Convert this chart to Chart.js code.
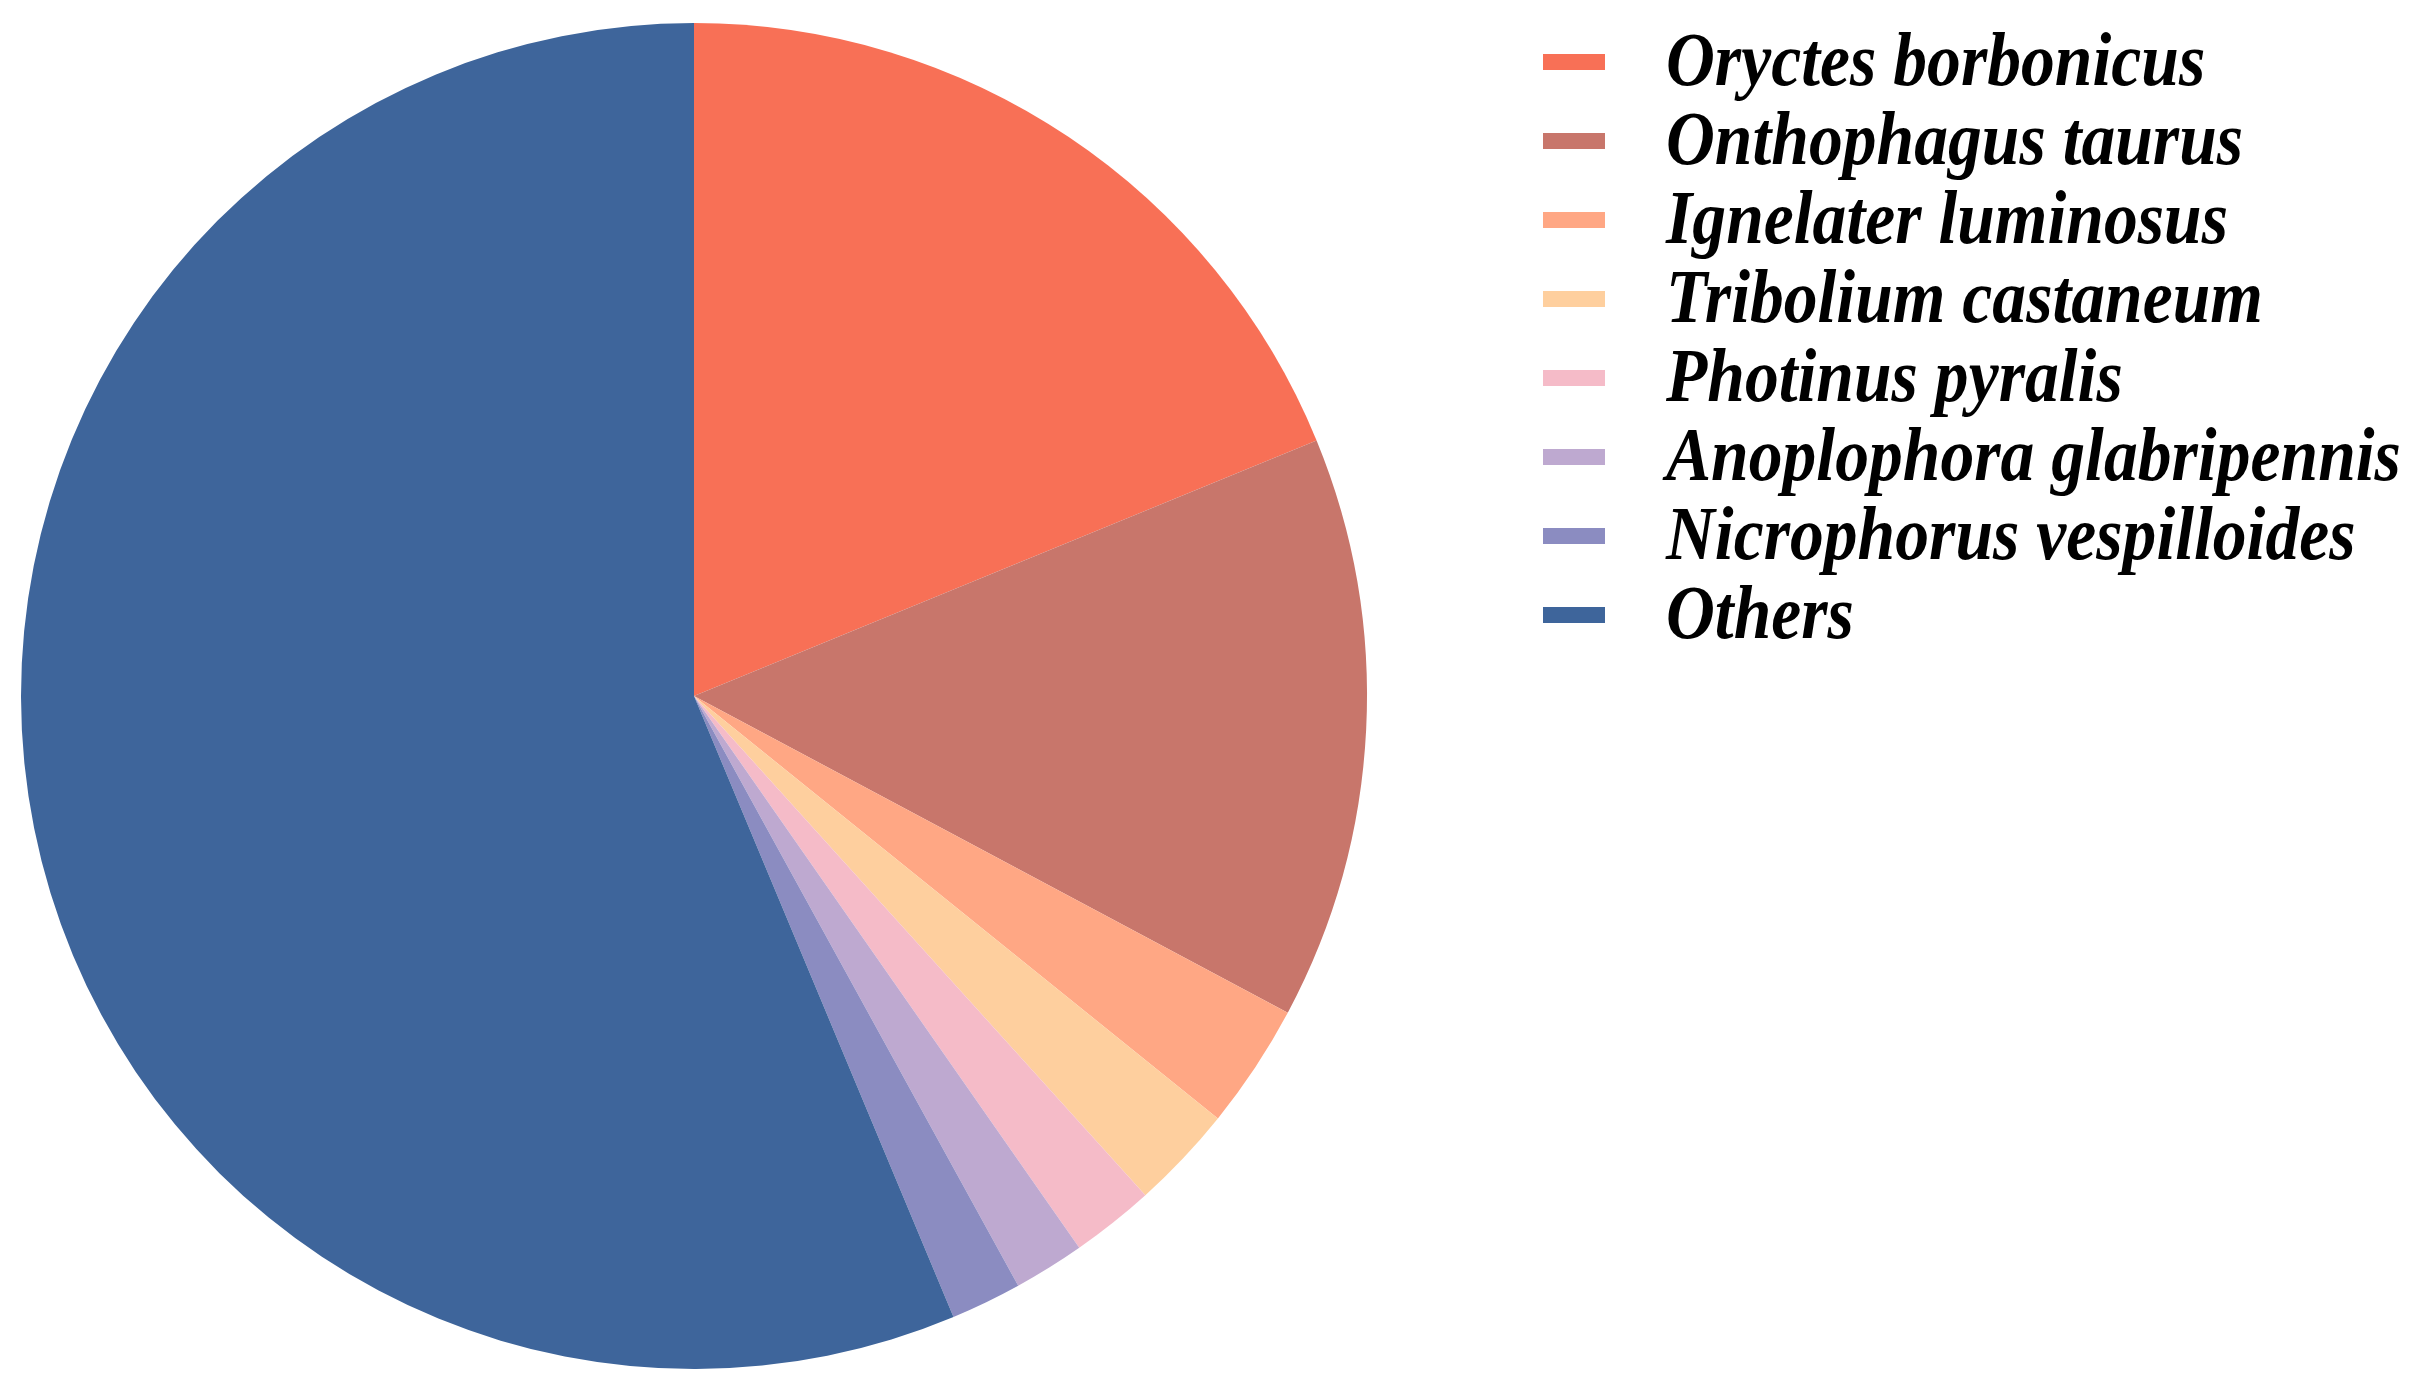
<!DOCTYPE html>
<html>
<head>
<meta charset="utf-8">
<script src="https://cdn.jsdelivr.net/npm/chart.js@4.4.1/dist/chart.umd.min.js"></script>
<style>
  html, body { margin: 0; padding: 0; background: #fff; }
  #wrap { width: 2415px; height: 1393px; }
</style>
</head>
<body>
<div id="wrap"><canvas id="pie"></canvas></div>
<script>
const species = [
  "Oryctes borbonicus",
  "Onthophagus taurus",
  "Ignelater luminosus",
  "Tribolium castaneum",
  "Photinus pyralis",
  "Anoplophora glabripennis",
  "Nicrophorus vespilloides",
  "Others",
];
const shares = [18.8, 14.0, 3.0, 2.5, 2.0, 1.7, 1.7, 56.3];
const colors = ["#f87056", "#c8766b", "#ffa784", "#fecf9e", "#f5bbc8", "#bea9d0", "#8b8cc1", "#3e659b"];

// legend drawn by hand so the box/text spacing can match the figure
const sideLegend = {
  id: "sideLegend",
  afterDraw(chart) {
    const ctx = chart.ctx;
    const ds = chart.data.datasets[0];
    ctx.save();
    ctx.font = "bold italic 76px 'Liberation Serif', 'Times New Roman', serif";
    ctx.textBaseline = "alphabetic";
    chart.data.labels.forEach((label, i) => {
      const cy = 62 + i * 79;
      ctx.fillStyle = ds.backgroundColor[i];
      ctx.fillRect(1543, cy - 8, 62, 16);
      ctx.save();
      ctx.translate(1666, cy + 23);
      ctx.scale(0.89, 1);
      ctx.fillStyle = "#000";
      ctx.fillText(label, 0, 0);
      ctx.restore();
    });
    ctx.restore();
  },
};

new Chart(document.getElementById("pie"), {
  type: "pie",
  data: {
    labels: species,
    datasets: [{
      data: shares,
      backgroundColor: colors,
      borderWidth: 0,
    }],
  },
  options: {
    responsive: true,
    maintainAspectRatio: false,
    animation: false,
    layout: { padding: { left: 21, top: 23, right: 1048, bottom: 24 } },
    plugins: {
      legend: { display: false },
      tooltip: { enabled: false },
    },
  },
  plugins: [sideLegend],
});
</script>
</body>
</html>
